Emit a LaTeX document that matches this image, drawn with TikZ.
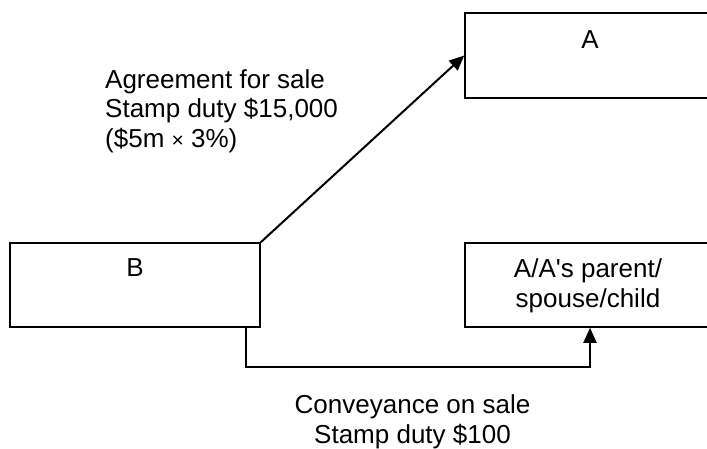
\documentclass[tikz,border=0pt]{standalone}
\usepackage{fontspec}
\setmainfont{Liberation Sans}
\usetikzlibrary{arrows.meta,calc}

\tikzset{
  box/.style={draw, line width=1.6pt, inner sep=0pt, minimum width=256pt},
  txt/.style={inner sep=0pt, align=center, font=\fontsize{26}{29.5}\selectfont},
  conn/.style={line width=2pt, -{Triangle[length=15pt,width=13pt]}},
}

\begin{document}
\begin{tikzpicture}[x=1pt, y=-1pt]
  \useasboundingbox (0,0) rectangle (707,448);

  % parties (the two on the right run past the page edge)
  \node[box, minimum width=250pt, minimum height=84pt] (B) at (135,285) {};
  \node[box, minimum height=85pt] (A) at (593,55.5) {};
  \node[box, minimum height=84pt] (R) at (593,285) {};

  % party names, set near the top of each box
  \node[txt, anchor=base] (Aname) at ($(A.north)+(-3,36)$) {A};
  \node[txt, anchor=base] (Bname) at ($(B.north)+(0,34)$) {B};
  \node[txt, anchor=north] (Rname) at ($(R.north)+(-5,16.5)$)
    {A/A\textquotesingle s parent/\\spouse/child};

  % the two transactions
  \draw[conn] (B.north east) -- (A.west);
  \coordinate (turn) at (246,367);
  \coordinate (up) at (590,0);
  \draw[conn] (B.south -| turn) -- (turn) -| (R.south -| up);

  % duty notes
  \node[txt, align=left, anchor=north west] (agr) at (105,69)
    {Agreement for sale\\Stamp duty \$15,000\\(\$5m {\fontsize{21}{29.5}\selectfont×} 3\%)};
  \node[txt, anchor=north] (conv) at (412.5,394.5)
    {Conveyance on sale\\Stamp duty \$100};
\end{tikzpicture}
\end{document}
